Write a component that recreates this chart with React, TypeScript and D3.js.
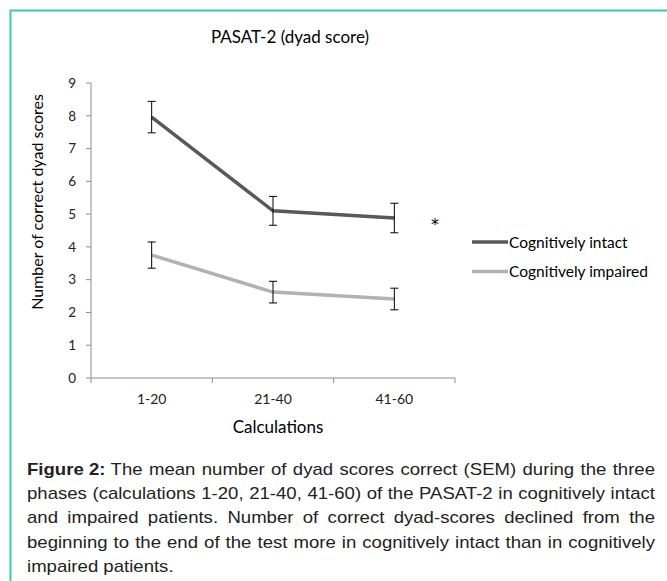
import * as d3 from "d3";

const categories = ["1-20", "21-40", "41-60"];
const intactMeans = [7.96, 5.1, 4.88];
const intactSem = [0.48, 0.44, 0.45];
const impairedMeans = [3.75, 2.62, 2.41];
const impairedSem = [0.4, 0.33, 0.33];
const yTicks = [0, 1, 2, 3, 4, 5, 6, 7, 8, 9];

const captionLines = [
  "The mean number of dyad scores correct (SEM) during the three",
  "phases (calculations 1-20, 21-40, 41-60) of the PASAT-2 in cognitively intact",
  "and impaired patients. Number of correct dyad-scores declined from the",
  "beginning to the end of the test more in cognitively intact than in cognitively",
  "impaired patients.",
];

const W = 667;
const H = 581;
const chartFont = "Lato, 'Open Sans', sans-serif";
const captionFont = "'Liberation Sans', Arial, sans-serif";

let ctx: CanvasRenderingContext2D | null = null;
function measure(text: string, font: string) {
  if (!ctx) ctx = document.createElement("canvas").getContext("2d");
  if (!ctx) return text.length * 8;
  ctx.font = font;
  return ctx.measureText(text).width;
}

// lay out a justified line word by word
function justify(line: string, width: number, fontSize: number, prefixW = 0) {
  const words = line.split(" ");
  const font = `${fontSize}px ${captionFont}`;
  const widths = words.map((w) => measure(w, font));
  const total = widths.reduce((a, b) => a + b, 0);
  const gap = (width - prefixW - total) / (words.length - 1);
  let x = prefixW;
  return words.map((w, i) => {
    const pos = x;
    x += widths[i] + gap;
    return { w, x: pos };
  });
}

export default function App() {
  const x = d3.scaleBand().domain(categories).range([91, 455]);
  const y = d3.scaleLinear().domain([0, 9]).range([378, 83]);
  const cx = (c: string) => (x(c) ?? 0) + x.bandwidth() / 2;

  const line = d3
    .line<number>()
    .x((_, i) => cx(categories[i]))
    .y((d) => y(d));

  const series = [
    { name: "Cognitively intact", means: intactMeans, sem: intactSem, color: "#595959" },
    { name: "Cognitively impaired", means: impairedMeans, sem: impairedSem, color: "#b2b2b2" },
  ];

  // caption: glyphs in the reference are a bit wider than Arial, so stretch horizontally
  const capSize = 16;
  const capX0 = 27;
  const capWidth = 628;
  const natural = measure(captionLines[1], `${capSize}px ${captionFont}`);
  const sx = Math.max(1, Math.min(1.2, (capWidth - 4) / natural));
  const innerW = capWidth / sx;
  const boldLabel = "Figure 2:";
  const boldW = measure(boldLabel + " ", `bold ${capSize}px ${captionFont}`);

  return (
    <svg
      width={W}
      height={H}
      style={{ position: "absolute", left: 0, top: 0, background: "#fff" }}
    >
      {/* frame */}
      <path d={`M10.5,${H} V10.5 H${W}`} fill="none" stroke="#3cc8ae" strokeWidth={2} />

      <text x={290} y={43} textAnchor="middle" fontFamily={chartFont} fontSize={17} fill="#000">
        PASAT-2 (dyad score)
      </text>

      {/* y axis */}
      <line x1={91} x2={91} y1={y(9)} y2={y(0)} stroke="#8c8c8c" />
      {yTicks.map((t) => (
        <g key={t}>
          <line x1={86} x2={91} y1={y(t)} y2={y(t)} stroke="#8c8c8c" />
          <text
            x={76}
            y={y(t)}
            dy="0.35em"
            textAnchor="end"
            fontFamily={chartFont}
            fontSize={13.5}
            fill="#222"
          >
            {t}
          </text>
        </g>
      ))}
      <text
        transform={`translate(43,202) rotate(-90)`}
        textAnchor="middle"
        fontFamily={chartFont}
        fontSize={16}
        fill="#000"
      >
        Number of correct dyad scores
      </text>

      {/* x axis */}
      <line x1={91} x2={455} y1={y(0)} y2={y(0)} stroke="#8c8c8c" />
      {[...categories.map((c) => x(c) ?? 0), 455].map((v, i) => (
        <line key={i} x1={v} x2={v} y1={y(0)} y2={y(0) + 5} stroke="#8c8c8c" />
      ))}
      {categories.map((c) => (
        <text
          key={c}
          x={cx(c)}
          y={404}
          textAnchor="middle"
          fontFamily={chartFont}
          fontSize={14}
          fill="#222"
        >
          {c}
        </text>
      ))}
      <text x={278} y={433} textAnchor="middle" fontFamily={chartFont} fontSize={17} fill="#000">
        Calculations
      </text>

      {/* lines and error bars */}
      {series.map((s) => (
        <g key={s.name}>
          <path d={line(s.means) ?? ""} fill="none" stroke={s.color} strokeWidth={3.5} />
          {s.means.map((m, i) => {
            const px = cx(categories[i]);
            const top = y(m + s.sem[i]);
            const bot = y(m - s.sem[i]);
            return (
              <g key={i} stroke="#000" strokeWidth={1}>
                <line x1={px} x2={px} y1={top} y2={bot} />
                <line x1={px - 4} x2={px + 4} y1={top} y2={top} />
                <line x1={px - 4} x2={px + 4} y1={bot} y2={bot} />
              </g>
            );
          })}
        </g>
      ))}

      <text x={435} y={230} textAnchor="middle" fontFamily="'DejaVu Sans', sans-serif" fontSize={16} fill="#000">
        *
      </text>

      {/* legend */}
      {series.map((s, i) => (
        <g key={s.name} transform={`translate(472,${242 + i * 29.5})`}>
          <line x1={0} x2={36} y1={0} y2={0} stroke={s.color} strokeWidth={3.5} />
          <text x={37} y={5.5} fontFamily={chartFont} fontSize={15.5} fill="#000">
            {s.name}
          </text>
        </g>
      ))}

      {/* caption */}
      <g
        transform={`translate(${capX0},0) scale(${sx},1)`}
        fontFamily={captionFont}
        fontSize={capSize}
        fill="#222"
      >
        <text x={0} y={475} fontWeight="bold">
          {boldLabel}
        </text>
        {captionLines.map((ln, li) => {
          const yy = 475 + li * 24.2;
          if (li === captionLines.length - 1) {
            return (
              <text key={li} x={0} y={yy}>
                {ln}
              </text>
            );
          }
          const words = justify(ln, innerW, capSize, li === 0 ? boldW : 0);
          return (
            <g key={li}>
              {words.map((w, wi) => (
                <text key={wi} x={w.x} y={yy}>
                  {w.w}
                </text>
              ))}
            </g>
          );
        })}
      </g>
    </svg>
  );
}
